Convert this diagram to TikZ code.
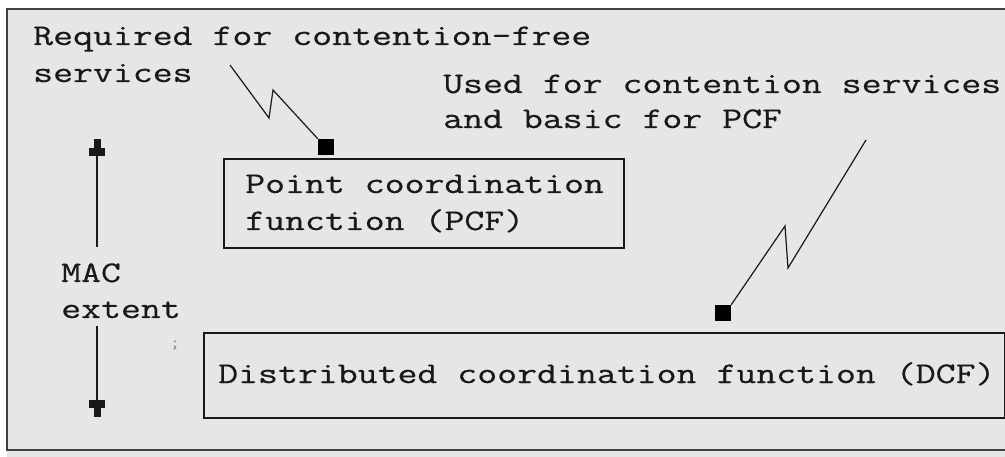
\documentclass[tikz,border=0pt]{standalone}
\usepackage{fontspec}
\setmonofont{Latin Modern Mono}[FakeStretch=1.29,FakeBold=0.5]
\usetikzlibrary{arrows.meta}
\definecolor{bg}{RGB}{230,230,230}
\definecolor{framec}{RGB}{64,64,64}
\definecolor{ink}{RGB}{25,25,25}
\begin{document}
\begin{tikzpicture}[x=1pt,y=-1pt,
  txt/.style={font=\ttfamily\fontsize{30}{37}\selectfont, text=ink, inner sep=0pt, align=left, anchor=base west},
  box/.style={draw=ink, line width=1.8pt, inner sep=0pt, anchor=north west},
  marker/.style={fill=black, inner sep=0pt, minimum size=16pt},
  zig/.style={line width=1.2pt, draw=ink},
  macarrow/.style={line width=2pt, draw=ink, -{Rectangle[width=16pt,length=8pt] Rectangle[width=7pt,length=9pt]}},
  framel/.style={line width=2.2pt, draw=framec}]
\useasboundingbox (0,0) rectangle (1005,457);
\fill[white] (0,0) rectangle (1005,457);
\fill[bg] (7,9) rectangle (1005,457);
% frame
\coordinate (ftr) at (1005,9);
\coordinate (ftl) at (7,9);
\coordinate (fbl) at (7,450);
\coordinate (fbr) at (1005,450);
\draw[framel] (ftr) -- (ftl) -- (fbl) -- (fbr);

% texts (multi-line nodes: base anchor is the last line)
\node[txt] (req) at (33,82) {Required for contention-free\\services};
\node[txt, font=\ttfamily\fontsize{30}{35}\selectfont] (used) at (443,128) {Used for contention services\\and basic for PCF};
\node[txt, font=\ttfamily\fontsize{30}{36}\selectfont] (mac) at (61,318) {MAC\\extent};
\node[font=\ttfamily\fontsize{16}{18}\selectfont, text=black!45, inner sep=0pt] (semi) at (175,345) {;};

% boxes
\node[box, minimum width=400pt, minimum height=89pt] (pcf) at (223,158) {};
\node[txt] (pcftext) at (245,230) {Point coordination\\function (PCF)};
\node[box, minimum width=801pt, minimum height=85pt] (dcf) at (203,332) {};
\node[txt] (dcftext) at (218,383) {Distributed coordination function (DCF)};

% markers
\node[marker] (sq1) at (326,147) {};
\node[marker] (sq2) at (723,313) {};

% zigzag connectors
\coordinate (z1a) at (230,65);
\coordinate (z1b) at (269,118);
\coordinate (z1c) at (273,90);
\draw[zig] (z1a) -- (z1b) -- (z1c) -- (sq1.north west);
\coordinate (z2a) at (866,140);
\coordinate (z2b) at (788,268);
\coordinate (z2c) at (785,226);
\draw[zig] (z2a) -- (z2b) -- (z2c) -- (sq2.north east);

% MAC extent arrows
\coordinate (a1s) at (97,247);
\coordinate (a1e) at (97,139);
\coordinate (a2s) at (97,326);
\coordinate (a2e) at (97,417);
\draw[macarrow] (a1s) -- (a1e);
\draw[macarrow] (a2s) -- (a2e);
\end{tikzpicture}
\end{document}
